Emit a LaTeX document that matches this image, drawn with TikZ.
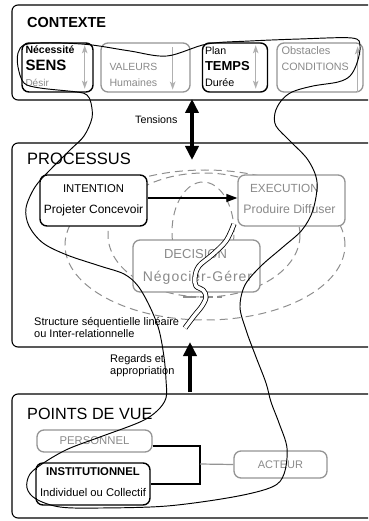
\documentclass[tikz,border=0pt]{standalone}
\usepackage{fontspec}
\setmainfont{Liberation Sans}
\newfontfamily\spacedsans[LetterSpace=7]{Liberation Sans}
\usetikzlibrary{arrows.meta,positioning,calc}
\definecolor{ash}{HTML}{949494}
\definecolor{ashtext}{HTML}{8A8A8A}
\definecolor{mist}{HTML}{B0B0B0}
\definecolor{dashgrey}{HTML}{8E8E8E}
\tikzset{
  framebox/.style={draw=black, line width=1.1pt, rounded corners=6pt},
  darkbox/.style={rectangle, draw=black, line width=1.4pt, fill=white,
    rounded corners=7pt, inner sep=0pt},
  greybox/.style={rectangle, draw=ash, line width=1.3pt, fill=white,
    rounded corners=7pt, inner sep=0pt},
  txt/.style={inner sep=0pt, font=\fontsize{11}{12}\selectfont},
  hintarrow/.style={draw=mist, line width=1.4pt},
  hinttip/.tip={Stealth[length=8pt, width=5.5pt, inset=2pt]},
  fatarrow/.style={line width=3.8pt},
  fattip/.tip={Triangle[length=14pt, width=13pt]},
  flowarrow/.style={-{Triangle[length=11pt, width=8pt]}, line width=1.3pt},
  ring/.style={draw=dashgrey, line width=1pt, dash pattern=on 8pt off 5pt},
  sketchline/.style={line width=0.95pt, line join=round},
}

\begin{document}
\begin{tikzpicture}[x=1pt, y=-1pt]
  \useasboundingbox (0,0) rectangle (368,521);

  % frames
  \draw[framebox] (368,5) -- (12,5) -- (12,100) -- (368,100);
  \draw[framebox] (368,143) -- (12,143) -- (12,347) -- (368,347);
  \draw[framebox] (368,394) -- (12,394) -- (12,518) -- (368,518);
  \node[txt, anchor=base west, font=\bfseries\fontsize{14.5}{16}\selectfont] (ctx-title) at (27,28) {CONTEXTE};
  \node[txt, anchor=base west, font=\fontsize{16.5}{18}\selectfont] (proc-title) at (27,165) {PROCESSUS};
  \node[txt, anchor=base west, font=\fontsize{16.2}{18}\selectfont] (pv-title) at (27,419) {POINTS DE VUE};

  % Contexte
  \node[darkbox, minimum width=71pt, minimum height=49pt] (sens) at (57.5,67.5) {};
  \node[greybox, minimum width=89pt, minimum height=49pt] (valeurs) at (145.5,67.5) {};
  \node[darkbox, minimum width=65pt, minimum height=49pt] (temps) at (235,67.5) {};
  \node[greybox, minimum width=86pt, minimum height=49pt] (conditions) at (320,67.5) {};
  \node[txt, anchor=base west, font=\bfseries\fontsize{10.5}{12}\selectfont] (sens-a) at ([xshift=4pt,yshift=-11pt]sens.north west) {Nécessité};
  \node[txt, anchor=base west, font=\bfseries\fontsize{15}{16}\selectfont] (sens-b) at ([xshift=4pt,yshift=-28pt]sens.north west) {SENS};
  \node[txt, anchor=base west, text=ashtext, font=\fontsize{10}{12}\selectfont] (sens-c) at ([xshift=4pt,yshift=-44pt]sens.north west) {Désir};
  \node[txt, anchor=base west, text=ashtext, font=\fontsize{10.4}{12}\selectfont] (valeurs-a) at ([xshift=9pt,yshift=-28pt]valeurs.north west) {VALEURS};
  \node[txt, anchor=base west, text=ashtext, font=\fontsize{10.6}{12}\selectfont] (valeurs-b) at ([xshift=9pt,yshift=-44pt]valeurs.north west) {Humaines};
  \node[txt, anchor=base west, font=\fontsize{10.6}{12}\selectfont] (temps-a) at ([xshift=3pt,yshift=-12pt]temps.north west) {Plan};
  \node[txt, anchor=base west, font=\bfseries\fontsize{13}{14}\selectfont] (temps-b) at ([xshift=3pt,yshift=-28pt]temps.north west) {TEMPS};
  \node[txt, anchor=base west, font=\fontsize{10.8}{12}\selectfont] (temps-c) at ([xshift=3pt,yshift=-44pt]temps.north west) {Durée};
  \node[txt, anchor=base west, text=ashtext, font=\fontsize{11}{12}\selectfont] (conditions-a) at ([xshift=5pt,yshift=-12pt]conditions.north west) {Obstacles};
  \node[txt, anchor=base west, text=ashtext, font=\fontsize{10.7}{12}\selectfont] (conditions-b) at ([xshift=5pt,yshift=-28pt]conditions.north west) {CONDITIONS};
  \draw[hintarrow, hinttip-hinttip] ([xshift=-9pt,yshift=-3pt]sens.north east) -- ([xshift=-9pt,yshift=4pt]sens.south east);
  \draw[hintarrow, -hinttip] ([xshift=-18pt,yshift=-5pt]valeurs.north east) -- ([xshift=-18pt,yshift=3pt]valeurs.south east);
  \draw[hintarrow, hinttip-hinttip] ([xshift=-12.5pt,yshift=-3pt]temps.north east) -- ([xshift=-12.5pt,yshift=4pt]temps.south east);
  \draw[hintarrow, -hinttip] ([xshift=-6pt,yshift=1pt]conditions.south east) -- ([xshift=-6pt,yshift=-4pt]conditions.north east);

  % Tensions
  \coordinate (ctx-base) at (192,99);
  \coordinate (proc-in) at (192,160);
  \draw[fatarrow, fattip-fattip] (proc-in) -- (ctx-base);
  \node[txt, anchor=base west, font=\fontsize{10.7}{12}\selectfont] (tensions) at (135,124) {Tensions};

  % Processus
  \draw[ring] (205,245) ellipse [x radius=140pt, y radius=75pt];
  \draw[ring] (204,235) ellipse [x radius=96pt, y radius=62pt];
  \draw[ring] (203,232) ellipse [x radius=31pt, y radius=50pt];
  \node[darkbox, minimum width=107pt, minimum height=51pt] (intention) at (93.5,200.5) {};
  \node[greybox, minimum width=107pt, minimum height=51pt] (execution) at (291.5,200.5) {};
  \node[greybox, minimum width=127pt, minimum height=52pt] (decision) at (196.5,266) {};
  \draw[dashgrey, line width=2.6pt, dash pattern=on 13pt off 4pt] (183,297) -- (222,297);
  \node[txt, anchor=base, font=\fontsize{11.3}{12}\selectfont] (intention-a) at ([yshift=-18pt]intention.north) {INTENTION};
  \node[txt, anchor=base, font=\fontsize{12}{13}\selectfont] (intention-b) at ([yshift=-39pt]intention.north) {Projeter Concevoir};
  \node[txt, anchor=base, text=ashtext, font=\fontsize{11.8}{13}\selectfont] (execution-a) at ([xshift=-7pt,yshift=-18pt]execution.north) {EXECUTION};
  \node[txt, anchor=base, text=ashtext, font=\fontsize{12.3}{13}\selectfont] (execution-b) at ([xshift=-2pt,yshift=-39pt]execution.north) {Produire Diffuser};
  \node[txt, anchor=base, text=ashtext, font=\fontsize{13}{14}\selectfont] (decision-a) at ([xshift=-1pt,yshift=-19pt]decision.north) {DECISION};
  \node[txt, anchor=base, text=ashtext, font=\spacedsans\fontsize{14}{15}\selectfont] (decision-b) at ([xshift=1pt,yshift=-42pt]decision.north) {Négocier-Gérer};
  \draw[flowarrow] ([yshift=2.5pt]intention.east) -- ([yshift=2.5pt]execution.west);
  \node[txt, anchor=north west, align=left, font=\fontsize{11}{12}\selectfont] (structure) at (34,317) {Structure séquentielle linéaire\\ou Inter-relationnelle};

  % Regards
  \node[txt, anchor=north west, align=left, font=\fontsize{11}{12}\selectfont] (regards) at (110,354) {Regards et\\appropriation};
  \coordinate (pv-top) at (190,392);
  \coordinate (proc-base) at (190,342);
  \draw[fatarrow, -fattip] (pv-top) -- (proc-base);

  % Points de vue
  \node[greybox, minimum width=115pt, minimum height=22pt, text=ashtext, font=\fontsize{11.3}{12}\selectfont] (personnel) at (94.5,441) {PERSONNEL};
  \node[darkbox, minimum width=114pt, minimum height=42pt] (institutionnel) at (93,484) {};
  \node[txt, anchor=base, font=\bfseries\fontsize{11.3}{12}\selectfont] (institutionnel-a) at ([yshift=-13pt]institutionnel.north) {INSTITUTIONNEL};
  \node[txt, anchor=base, font=\fontsize{11.2}{12}\selectfont] (institutionnel-b) at ([yshift=-34pt]institutionnel.north) {Individuel ou Collectif};
  \node[greybox, minimum width=93pt, minimum height=27pt, text=ashtext, font=\fontsize{11}{12}\selectfont] (acteur) at (280.5,464.5) {ACTEUR};
  \coordinate (pv-join) at (200,464);
  \draw[line width=1.3pt] ([yshift=-5pt]personnel.east) -| (pv-join |- institutionnel.east) -- (institutionnel.east);
  \draw[ash, line width=1.2pt] (pv-join) -- (acteur.west);

  % sketched loop
  \draw[sketchline] plot[smooth cycle, tension=0.55] coordinates {
    (40,43) (62,43) (92,45) (130,51) (167,56) (207,44) (250,41) (300,39) (352,38)
    (360,46) (357,63) (350,76) (338,82) (313,86) (292,92) (281,101) (275,113)
    (276,126) (290,141) (308,160) (317,182) (313,210) (302,230) (283,247)
    (261,266) (245,285) (240,307) (246,330) (256,357) (266,383) (271,402)
    (279,423) (287,448) (284,474) (272,487) (233,497) (167,506) (100,508)
    (60,507) (36,499) (27,488) (30,474) (45,462) (68,449) (100,437) (140,422)
    (157,411) (166,398) (166,380) (164,357) (159,330) (150,307) (138,286)
    (124,274) (100,266) (67,255) (43,243) (29,226) (26,208) (35,187) (50,170)
    (70,150) (84,136) (92,118) (91,103) (87,95) (77,92) (40,88) (24,83)
    (18,67) (18,53) (24,45)};
  \draw[sketchline, line width=0.8pt, double=white, double distance=3.5pt] plot[smooth, tension=0.6] coordinates {
    (234,224) (226,241) (212,255) (199,266) (195,277) (196,286) (203,290)
    (206,297) (202,306) (194,316) (185,328)};
\end{tikzpicture}
\end{document}
